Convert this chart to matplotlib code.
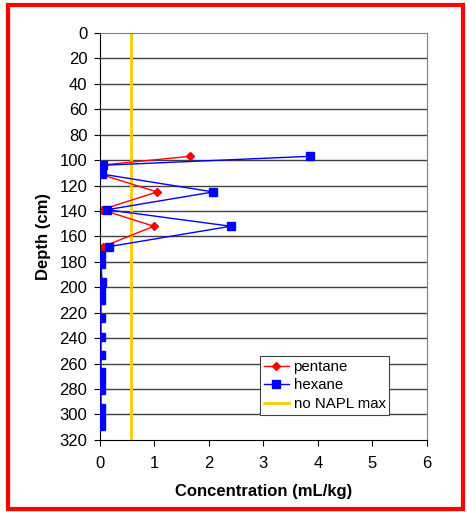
import matplotlib
matplotlib.use("Agg")
import matplotlib.pyplot as plt
from matplotlib.patches import Rectangle

plt.rcParams['font.family'] = ['Liberation Sans', 'DejaVu Sans']

# profundidades (cm) y concentraciones (mL/kg)
depth = [97, 104, 111, 125, 139, 152, 168, 175, 182, 196, 203, 210,
         224, 239, 253, 267, 274, 281, 295, 302, 309]
pentane = [1.65, 0.0, 0.0, 1.05, 0.03, 0.99, 0.06, 0.0, 0.0, 0.0, 0.0, 0.0,
           0.0, 0.0, 0.0, 0.0, 0.0, 0.0, 0.0, 0.0, 0.0]
hexane = [3.85, 0.06, 0.04, 2.08, 0.13, 2.40, 0.17, 0.02, 0.02, 0.04, 0.02, 0.02,
          0.02, 0.02, 0.02, 0.02, 0.02, 0.02, 0.02, 0.02, 0.02]
napl_max = 0.57
napl_depth = [0, 320]

fig = plt.figure(figsize=(4.67, 5.12), dpi=100)
ax = fig.add_axes([0.214, 0.141, 0.70, 0.7945])

for yy in range(20, 320, 20):
    ax.axhline(yy, color="#404040", lw=1, zorder=0)

ax.plot(pentane, depth, color="red", marker="D", markersize=4, lw=1, label="pentane", zorder=2)
ax.plot(hexane, depth, color="blue", marker="s", markersize=6, lw=1, label="hexane", zorder=3)
ax.plot([napl_max, napl_max], napl_depth, color="#FFCC00", lw=2, label="no NAPL max", zorder=1)

ax.set_xlim(0, 6)
ax.set_ylim(320, 0)
ax.set_xticks(range(0, 7))
ax.set_yticks(range(0, 321, 20))
ax.tick_params(labelsize=12, direction="out", length=4)
ax.tick_params(axis="x", pad=8)
ax.tick_params(axis="y", pad=5)
ax.set_xlabel("Concentration (mL/kg)", fontsize=12, fontweight="bold", labelpad=9)
ax.set_ylabel("Depth (cm)", fontsize=12, fontweight="bold", labelpad=6)
ax.spines["top"].set_color("gray")
ax.spines["right"].set_color("gray")

leg = ax.legend(loc="upper left", bbox_to_anchor=(0.489, 0.206), borderaxespad=0,
                fontsize=10.8, fancybox=False, framealpha=1, edgecolor="#404040",
                borderpad=0.25, labelspacing=0.3, handlelength=1.7, handletextpad=0.3)
leg.get_frame().set_linewidth(0.8)

fig.patches.append(Rectangle((0.017, 0.006), 0.975, 0.984, transform=fig.transFigure,
                             fill=False, edgecolor="red", lw=3))

fig.savefig("out.png", dpi=100)
